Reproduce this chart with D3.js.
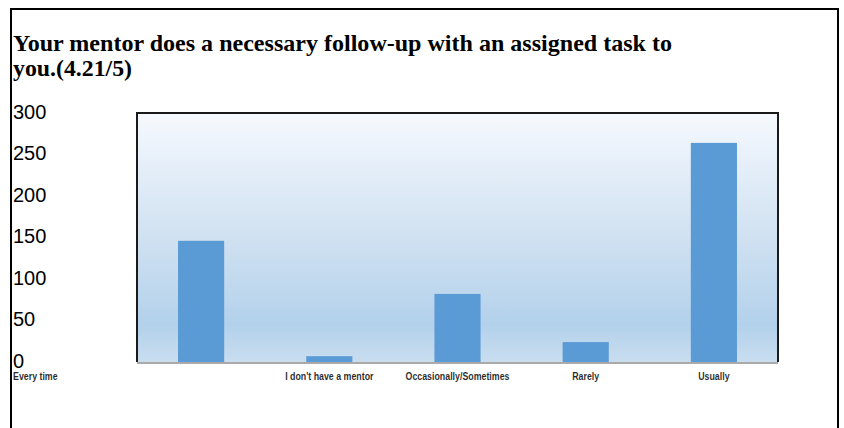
<!DOCTYPE html>
<html>
<head>
<meta charset="utf-8">
<script src="https://cdn.jsdelivr.net/npm/d3@7"></script>
<style>
  body { margin: 0; background: #fff; }
</style>
</head>
<body>
<svg id="chart" width="844" height="428"></svg>
<script>
// chart values
const categories = ["Every time", "I don't have a mentor", "Occasionally/Sometimes", "Rarely", "Usually"]
const counts = [146, 7, 82, 24, 264]
const yTicks = [0, 50, 100, 150, 200, 250, 300]
const titleLines = ["Your mentor does a necessary follow-up with an assigned task to", "you.(4.21/5)"]

const W = 844, H = 428
const PLOT = {left: 137, right: 778, top: 113, bottom: 362}

let svg = d3.select("#chart")

// page frame
svg.append("rect")
  .attr("x", 11).attr("y", 9)
  .attr("width", 827).attr("height", H)
  .attr("fill", "none")
  .attr("stroke", "#000")
  .attr("stroke-width", 2)

// title (condensed bold serif)
svg.selectAll(".title")
  .data(titleLines)
  .join("text")
  .attr("class", "title")
  .attr("x", 13)
  .attr("y", (d, i) => 51 + i * 25)
  .attr("font-family", "Liberation Serif, Times New Roman, serif")
  .attr("font-weight", "bold")
  .attr("font-size", 23.5)
  .attr("fill", "#000")
  .attr("textLength", (d, i) => i == 0 ? 659 : 119)
  .attr("lengthAdjust", "spacingAndGlyphs")
  .text(d => d)

// background gradient for plot area
let defs = svg.append("defs")
let grad = defs.append("linearGradient")
  .attr("id", "bg")
  .attr("x1", 0).attr("y1", 0).attr("x2", 0).attr("y2", 1)
grad.selectAll("stop")
  .data([["0%", "#f6f9fd"], ["12%", "#ecf3fb"], ["50%", "#d0e1f1"], ["85%", "#b3d1eb"], ["100%", "#c9ddef"]])
  .join("stop")
  .attr("offset", d => d[0])
  .attr("stop-color", d => d[1])

let xScale = d3.scaleBand()
  .domain(categories)
  .range([PLOT.left, PLOT.right])
  .paddingInner(0.64)
  .paddingOuter(0.32)

let yScale = d3.scaleLinear()
  .domain([0, 300])
  .range([PLOT.bottom, PLOT.top])

svg.append("rect")
  .attr("x", PLOT.left)
  .attr("y", PLOT.top)
  .attr("width", PLOT.right - PLOT.left)
  .attr("height", PLOT.bottom - PLOT.top)
  .attr("fill", "url(#bg)")

// bars
svg.append("g")
  .selectAll("rect")
  .data(categories)
  .join("rect")
  .attr("x", d => xScale(d))
  .attr("y", (d, i) => yScale(counts[i]))
  .attr("width", xScale.bandwidth())
  .attr("height", (d, i) => yScale(0) - yScale(counts[i]))
  .attr("fill", "#5b9bd5")

// plot frame: dark top/left/right, grey base line
svg.append("path")
  .attr("d", `M${PLOT.left},${PLOT.bottom} V${PLOT.top} H${PLOT.right} V${PLOT.bottom}`)
  .attr("fill", "none")
  .attr("stroke", "#1a1a1a")
  .attr("stroke-width", 2)
svg.append("line")
  .attr("x1", PLOT.left).attr("x2", PLOT.right)
  .attr("y1", PLOT.bottom + 1).attr("y2", PLOT.bottom + 1)
  .attr("stroke", "#aaaaaa")
  .attr("stroke-width", 2)

// y axis labels sit at the left edge of the page
let yAxis = svg.append("g")
  .attr("transform", `translate(13, 0)`)
  .call(d3.axisLeft(yScale).tickValues(yTicks).tickSize(0).tickPadding(0))
yAxis.select(".domain").remove()
yAxis.selectAll("text")
  .attr("text-anchor", "start")
  .attr("x", 0)
  .attr("dy", "0.27em")
  .attr("font-family", "Liberation Sans, Arial, sans-serif")
  .attr("font-size", 20)
  .attr("fill", "#000")

// x axis labels
let xAxis = svg.append("g")
  .attr("transform", `translate(0, ${PLOT.bottom})`)
  .call(d3.axisBottom(xScale).tickSize(0).tickPadding(0))
xAxis.select(".domain").remove()
xAxis.selectAll("text")
  .attr("y", 18)
  .attr("dy", 0)
  .attr("font-family", "Liberation Sans Narrow, Arial Narrow, Liberation Sans, sans-serif")
  .attr("font-weight", "bold")
  .attr("font-size", 10.5)
  .attr("fill", "#000")
  .attr("fill-opacity", 0.85)
  .attr("lengthAdjust", "spacingAndGlyphs")
  .attr("textLength", function() { return this.getComputedTextLength() * 0.84 })

// first category label ends up at the far left in the original
xAxis.selectAll(".tick")
  .filter(d => d === categories[0])
  .attr("transform", "translate(13, 0)")
  .select("text")
  .attr("text-anchor", "start")
</script>
</body>
</html>
